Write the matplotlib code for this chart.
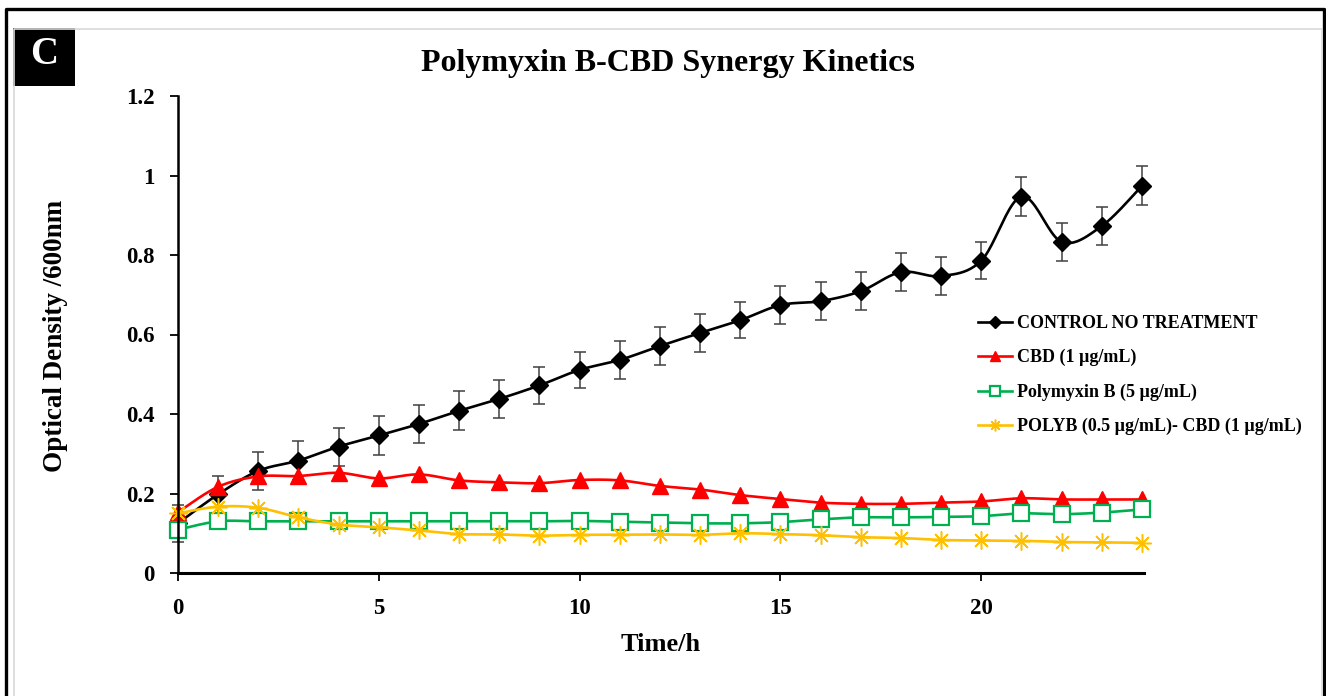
"""
	Polymyxin B - CBD synergy kinetics, growth curves (OD600) over 24 h.
"""

import numpy as np
import matplotlib.pyplot as plt
from matplotlib.lines import Line2D
from matplotlib.patches import Rectangle
from matplotlib.ticker import FuncFormatter

plt.rcParams['font.family'] = ['Liberation Serif', 'DejaVu Serif']
plt.rcParams['font.weight'] = 'bold'

hours = list(range(0, 25))

control = [0.125, 0.198, 0.257, 0.283, 0.318, 0.346, 0.375, 0.408, 0.438, 0.472,
           0.511, 0.536, 0.571, 0.604, 0.636, 0.674, 0.684, 0.709, 0.757, 0.747,
           0.786, 0.947, 0.833, 0.873, 0.974]
controlErr = [0.047, 0.046, 0.047, 0.049, 0.048, 0.048, 0.047, 0.049, 0.047, 0.046,
              0.046, 0.047, 0.047, 0.047, 0.046, 0.047, 0.047, 0.047, 0.048, 0.048,
              0.047, 0.048, 0.047, 0.047, 0.049]

cbd = [0.153, 0.217, 0.243, 0.244, 0.252, 0.238, 0.248, 0.233, 0.228, 0.226,
       0.234, 0.233, 0.219, 0.210, 0.196, 0.186, 0.177, 0.174, 0.174, 0.177,
       0.180, 0.188, 0.185, 0.185, 0.185]

polyb = [0.109, 0.130, 0.130, 0.130, 0.130, 0.130, 0.130, 0.130, 0.130, 0.130,
         0.131, 0.129, 0.127, 0.125, 0.125, 0.128, 0.135, 0.140, 0.140, 0.141,
         0.143, 0.150, 0.148, 0.152, 0.160]

combo = [0.150, 0.167, 0.164, 0.140, 0.122, 0.115, 0.107, 0.098, 0.097, 0.094,
         0.096, 0.096, 0.097, 0.096, 0.100, 0.098, 0.095, 0.090, 0.088, 0.083,
         0.082, 0.081, 0.078, 0.077, 0.076]

labels = ['CONTROL NO TREATMENT', 'CBD (1 \u00b5g/mL)', 'Polymyxin B (5 \u00b5g/mL)',
          'POLYB (0.5 \u00b5g/mL)- CBD (1 \u00b5g/mL)']


def smooth(x, y, n=24):
	# Excel-like smoothed line: cubic bezier through each point pair
	x = np.asarray(x, float)
	y = np.asarray(y, float)
	px = np.concatenate([[x[0]], x, [x[-1]]])
	py = np.concatenate([[y[0]], y, [y[-1]]])
	t = np.linspace(0, 1, n)[:, None]
	outX = []
	outY = []
	for i in range(len(x) - 1):
		p0 = np.array([px[i], py[i]])
		p1 = np.array([px[i + 1], py[i + 1]])
		p2 = np.array([px[i + 2], py[i + 2]])
		p3 = np.array([px[i + 3], py[i + 3]])
		c1 = p1 + (p2 - p0) / 6.0
		c2 = p2 - (p3 - p1) / 6.0
		pts = ((1 - t) ** 3) * p1 + 3 * ((1 - t) ** 2) * t * c1 + 3 * (1 - t) * (t ** 2) * c2 + (t ** 3) * p2
		outX.extend(pts[:, 0])
		outY.extend(pts[:, 1])
	return outX, outY


fig = plt.figure(figsize=(13.26, 6.96), dpi=100)
ax = fig.add_axes([178 / 1326, 1 - 573 / 696, (1144 - 178) / 1326, (573 - 96) / 696])

# error bars on the control series
ax.errorbar(hours, control, yerr=controlErr, fmt='none', ecolor='#404040',
            elinewidth=1.1, capsize=4, capthick=1.1, zorder=2, clip_on=False)

styles = [
	dict(color='black', marker='D', markersize=9, mfc='black', mec='black', mew=1),
	dict(color='#FF0000', marker='^', markersize=11, mfc='#FF0000', mec='#FF0000', mew=1),
	dict(color='#00B050', marker='s', markersize=11, mfc='white', mec='#00B050', mew=1.6),
	dict(color='#FFC000', marker=(8, 2, 0), markersize=13, mfc='#FFC000', mec='#FFC000', mew=1.1),
]

handles = []
for i, series in enumerate([control, cbd, polyb, combo]):
	st = styles[i]
	sx, sy = smooth(hours, series)
	ax.plot(sx, sy, color=st['color'], lw=1.9, zorder=3 + i, clip_on=False)
	ax.plot(hours, series, linestyle='none', marker=st['marker'], markersize=st['markersize'],
	        mfc=st['mfc'], mec=st['mec'], mew=st['mew'], zorder=3 + i, clip_on=False)
	handles.append(Line2D([], [], color=st['color'], lw=1.9, marker=st['marker'],
	                      markersize=st['markersize'] * 0.65, mfc=st['mfc'], mec=st['mec'], mew=st['mew']))

ax.set_xlim(0, 24.05)
ax.set_ylim(0, 1.2)
ax.set_xticks([0, 5, 10, 15, 20])
ax.set_yticks([0, 0.2, 0.4, 0.6, 0.8, 1.0, 1.2])
ax.yaxis.set_major_formatter(FuncFormatter(lambda v, p: '{:g}'.format(round(v, 2))))
ax.tick_params(axis='both', direction='out', length=6, width=1.3, labelsize=16.5, color='black')
ax.tick_params(axis='y', pad=11)
ax.tick_params(axis='x', pad=12)
for lab in ax.get_xticklabels() + ax.get_yticklabels():
	lab.set_fontweight('bold')

ax.spines['top'].set_visible(False)
ax.spines['right'].set_visible(False)
ax.spines['left'].set_linewidth(1.8)
ax.spines['bottom'].set_linewidth(2.2)
ax.spines['left'].set_zorder(10)
ax.spines['bottom'].set_zorder(10)

ax.set_xlabel('Time/h', fontsize=19, fontweight='bold', labelpad=10)
fig.text(55 / 1326, 1 - 336 / 696, 'Optical Density /600nm', rotation=90, ha='center', va='center',
         fontsize=19.5, fontweight='bold')

fig.text(668 / 1326, 1 - 63 / 696, 'Polymyxin B-CBD Synergy Kinetics', ha='center', va='center',
         fontsize=23, fontweight='bold')

fig.legend(handles, labels, loc='upper left', bbox_to_anchor=(978 / 1326, 1 - 315 / 696),
           frameon=False, handlelength=1.9, handletextpad=0.25, labelspacing=0.95,
           borderpad=0, borderaxespad=0, prop={'weight': 'bold', 'size': 13})

# panel frame and letter
W, H = 1326.0, 696.0
fig.add_artist(Line2D([6 / W, 6 / W, 1324 / W, 1324 / W], [0, 1 - 9 / H, 1 - 9 / H, 0],
                      color='black', lw=2.4, transform=fig.transFigure))
fig.add_artist(Line2D([14 / W, 14 / W, 1322 / W, 1322 / W], [0, 1 - 29 / H, 1 - 29 / H, 0],
                      color='#d9d9d9', lw=1.2, transform=fig.transFigure))
fig.add_artist(Rectangle((13 / W, 1 - 86 / H), 62 / W, 58 / H, facecolor='black', edgecolor='none',
                         transform=fig.transFigure))
fig.text(44 / W, 1 - 54 / H, 'C', color='white', ha='center', va='center', fontsize=28, fontweight='bold')

plt.savefig('out.png', dpi=100)
